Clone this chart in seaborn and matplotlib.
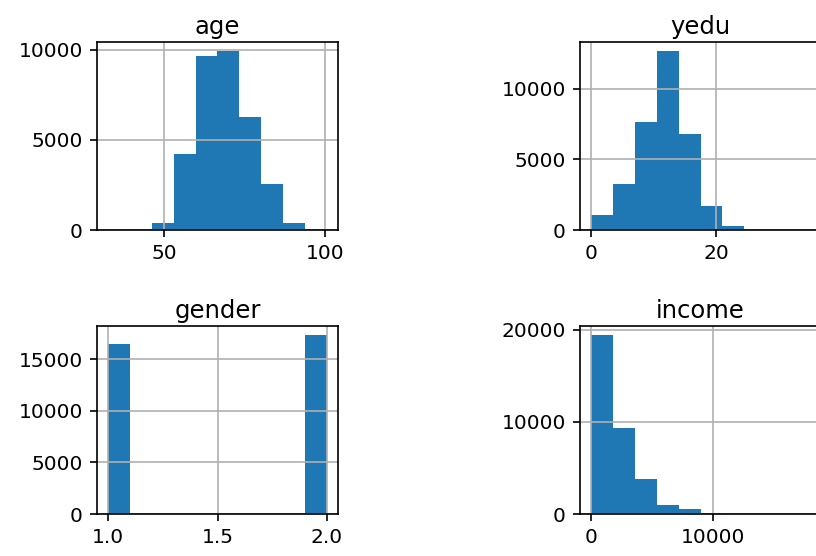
import numpy as np
import pandas as pd
import matplotlib
matplotlib.use("Agg")
import matplotlib.pyplot as plt
import seaborn as sns

# bin edges and counts (10 bins each, like df.hist())
age_edges = [32.6, 39.4, 46.2, 53.0, 59.8, 66.6, 73.4, 80.2, 87.0, 93.8, 100.6]
age_counts = [15, 60, 410, 4240, 9670, 9945, 6285, 2565, 410, 40]

yedu_edges = [0, 3.5, 7, 10.5, 14, 17.5, 21, 24.5, 28, 31.5, 35]
yedu_counts = [1070, 3290, 7620, 12690, 6830, 1715, 310, 25, 8, 3]

gender_edges = [1.0, 1.1, 1.2, 1.3, 1.4, 1.5, 1.6, 1.7, 1.8, 1.9, 2.0]
gender_counts = [16505, 0, 0, 0, 0, 0, 0, 0, 0, 17340]

income_edges = [0, 1800, 3600, 5400, 7200, 9000, 10800, 12600, 14400, 16200, 18000]
income_counts = [19460, 9390, 3810, 1010, 540, 120, 50, 20, 10, 5]

titles = ["age", "yedu", "gender", "income"]
xticks = [[50, 100], [0, 20], [1.0, 1.5, 2.0], [0, 10000]]
xticklabels = [["50", "100"], ["0", "20"], ["1.0", "1.5", "2.0"], ["0", "10000"]]
yticks = [[0, 5000, 10000], [0, 5000, 10000], [0, 5000, 10000, 15000], [0, 10000, 20000]]

plt.rcParams.update({
    "axes.linewidth": 1.2,
    "xtick.major.width": 1.2,
    "ytick.major.width": 1.2,
    "xtick.major.size": 5.2,
    "ytick.major.size": 5.2,
    "xtick.major.pad": 5.0,
    "ytick.major.pad": 5.0,
    "grid.linewidth": 1.2,
    "grid.color": "#b0b0b0",
    "font.family": ["DejaVu Sans"],
})

fig = plt.figure(figsize=(8.16, 5.56), dpi=100)

W, H = 816, 556
# axes boxes in pixels: left, top, width, height
boxes = [(97, 42, 241, 188), (580, 42, 241, 188),
         (97, 326, 241, 188), (580, 326, 241, 188)]

data = [(age_edges, age_counts), (yedu_edges, yedu_counts),
        (gender_edges, gender_counts), (income_edges, income_counts)]

for i, (edges, counts) in enumerate(data):
    l, t, w, h = boxes[i]
    ax = fig.add_axes([l / W, 1 - (t + h) / H, w / W, h / H])
    e = np.array(edges, dtype=float)
    df = pd.DataFrame({"x": (e[:-1] + e[1:]) / 2, "n": counts})
    sns.histplot(data=df, x="x", weights="n", bins=list(edges), ax=ax,
                 color="#1f77b4", alpha=1, linewidth=0, edgecolor="none")
    ax.set_xticks(xticks[i])
    ax.set_xticklabels(xticklabels[i])
    ax.set_yticks(yticks[i])
    span = e[-1] - e[0]
    ax.set_xlim(e[0] - 0.05 * span, e[-1] + 0.05 * span)
    ax.set_ylim(0, max(counts) * 1.05)
    ax.tick_params(labelsize=14.5)
    ax.grid(True)
    ax.set_xlabel("")
    ax.set_ylabel("")
    ax.set_title(titles[i], fontsize=17.5)

fig.savefig("out.png", dpi=100)
